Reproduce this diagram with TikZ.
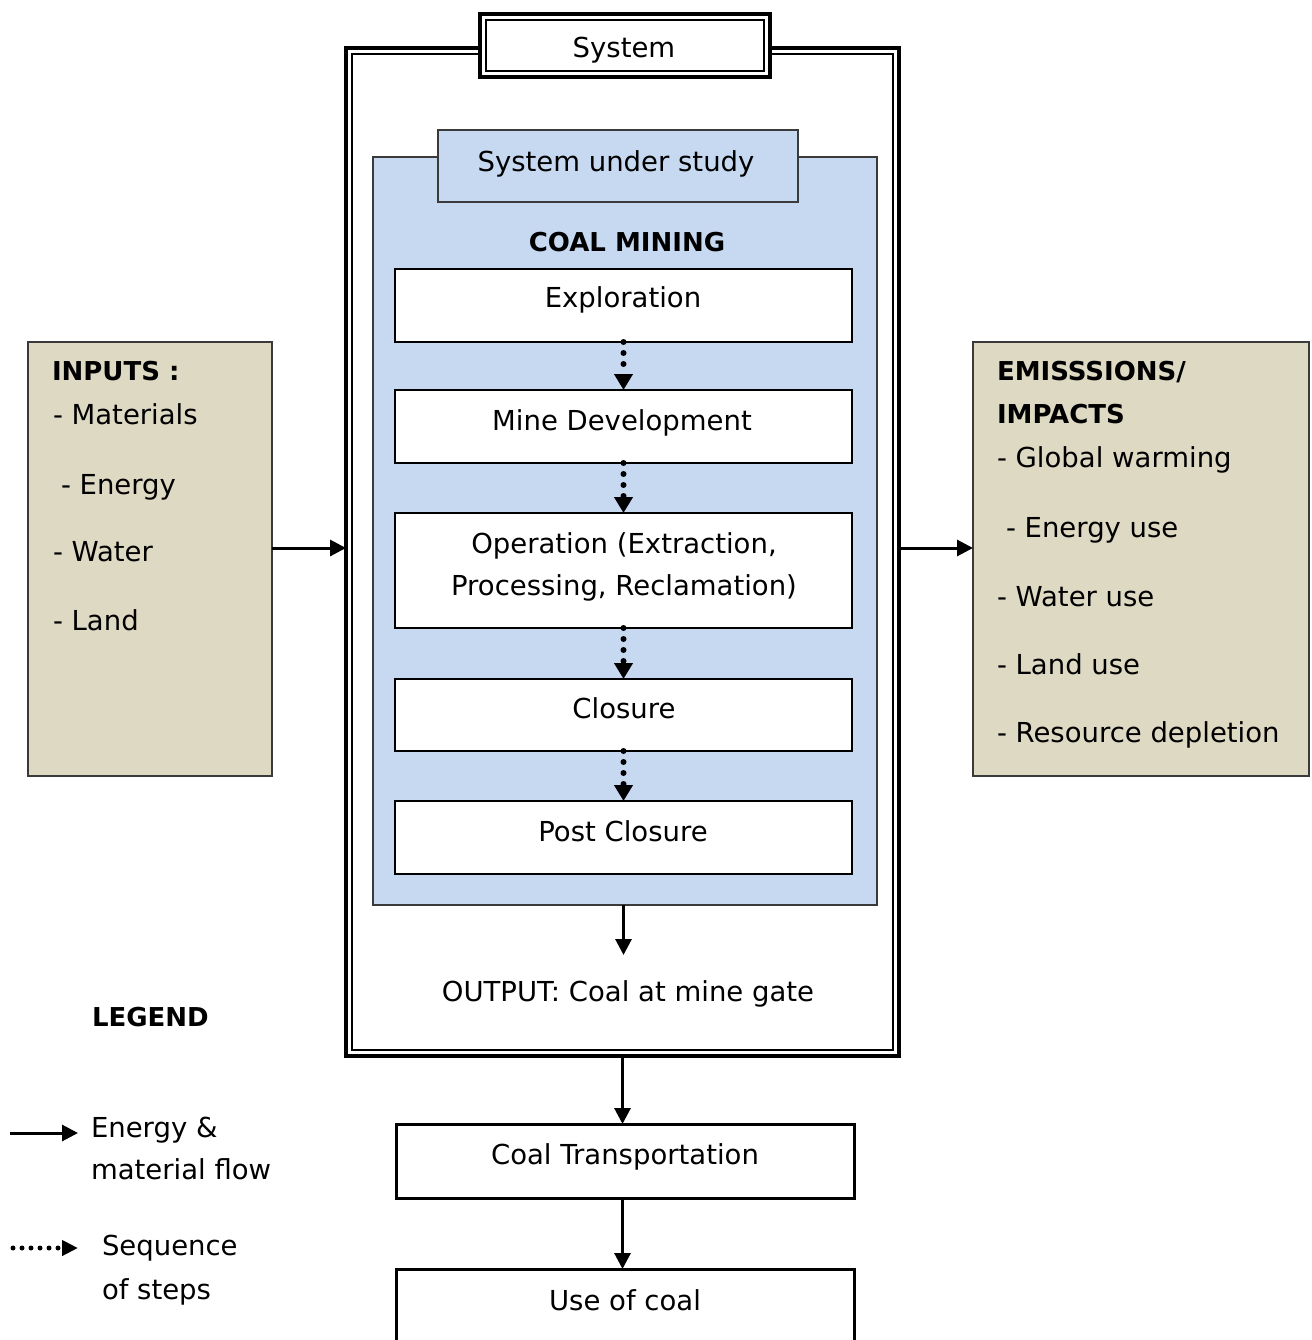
\documentclass[tikz,border=0pt]{standalone}
\usepackage{fontspec}
\setmainfont{DejaVu Sans}
\usetikzlibrary{arrows.meta}
\definecolor{studyblue}{HTML}{C6D9F1}
\definecolor{tanbox}{HTML}{DDD9C3}
\definecolor{edgegray}{HTML}{3A3A3A}
\begin{document}
\begin{tikzpicture}[x=1pt,y=-1pt,
  every node/.style={inner sep=0pt, outer sep=0pt},
  txt/.style={font=\fontsize{27.5}{33}\selectfont, anchor=mid, yshift=-7.5pt},
  ltxt/.style={txt, anchor=mid west},
  btxt/.style={ltxt, font=\fontsize{26}{31}\selectfont\bfseries},
  stepbox/.style={draw=black, fill=white, line width=1.4pt, minimum width=457pt},
  outbox/.style={draw=black, fill=white, line width=3pt, minimum width=458pt},
  tanpanel/.style={draw=edgegray, fill=tanbox, line width=1.5pt, minimum height=434pt},
  bluepanel/.style={draw=edgegray, fill=studyblue, line width=1.5pt},
  flow/.style={line width=3pt, -{Triangle[length=16pt,width=16pt]}},
  seq/.style={line width=6pt, dash pattern=on 0pt off 11pt, line cap=round, -{Triangle[length=16pt,width=18pt]}},
  seqsmall/.style={line width=5pt, dash pattern=on 0pt off 9pt, line cap=round, -{Triangle[length=16pt,width=15pt]}}
]
\useasboundingbox (0,0) rectangle (1311,1340);
\fill[white] (0,0) rectangle (1311,1340);

% System frame (double line)
\node[draw, line width=4pt, minimum width=553pt, minimum height=1008pt] (system) at (622.5,552) {};
\node[draw, line width=1.3pt, minimum width=541pt, minimum height=996pt] (systeminner) at (622.5,552) {};
% System title
\node[draw, fill=white, line width=4pt, minimum width=290pt, minimum height=63pt] (systitle) at (625,45.5) {};
\node[draw, line width=1.3pt, minimum width=278pt, minimum height=51pt] (systitleinner) at (625,45.5) {};
\node[txt] (systemtxt) at (624,47) {System};

% System under study
\node[bluepanel, minimum width=504pt, minimum height=748pt] (blue) at (625,531) {};
\node[bluepanel, minimum width=360pt, minimum height=72pt] (tab) at (618,166) {};
\node[txt] (tabtxt) at (616,161) {System under study};
\node[txt, font=\fontsize{26}{31}\selectfont\bfseries] (coal) at (627,241) {COAL MINING};

% Steps
\node[stepbox, minimum height=73pt] (expl) at (623.5,305.5) {};
\node[stepbox, minimum height=73pt] (dev) at (623.5,426.5) {};
\node[stepbox, minimum height=115pt] (oper) at (623.5,570.5) {};
\node[stepbox, minimum height=72pt] (clos) at (623.5,715) {};
\node[stepbox, minimum height=73pt] (post) at (623.5,837.5) {};
\node[txt] (expltxt) at (623,297) {Exploration};
\node[txt] (devtxt) at (622,420) {Mine Development};
\node[txt] (opertxta) at (624,543) {Operation (Extraction,};
\node[txt] (opertxtb) at (624,585) {Processing, Reclamation)};
\node[txt] (clostxt) at (624,708) {Closure};
\node[txt] (posttxt) at (623,831) {Post Closure};

\draw[seq] (expl.south) -- (dev.north);
\draw[seq] (dev.south) -- (oper.north);
\draw[seq] (oper.south) -- (clos.north);
\draw[seq] (clos.south) -- (post.north);

% Output
\coordinate (outtip) at (623.5,955);
\draw[flow] (blue.south -| expl.south) -- (outtip);
\node[txt] (outtxt) at (628,991) {OUTPUT: Coal at mine gate};

% Downstream
\node[outbox, minimum height=74pt] (trans) at (625,1161) {};
\node[txt] (transtxt) at (625,1154) {Coal Transportation};
\node[outbox, minimum height=91pt] (use) at (625,1314.5) {};
\node[txt] (usetxt) at (625,1300) {Use of coal};
\draw[flow] (system.south) -- (system.south |- trans.north);
\draw[flow] (trans.south -| system.south) -- (system.south |- use.north);

% Inputs
\node[tanpanel, minimum width=244pt] (inputs) at (150,559) {};
\node[btxt] (inhead) at (52,370) {INPUTS :};
\node[ltxt] (in1) at (53,414) {- Materials};
\node[ltxt] (in2) at (61,484) {- Energy};
\node[ltxt] (in3) at (53,551) {- Water};
\node[ltxt] (in4) at (53,620) {- Land};
\coordinate (flowrow) at ([yshift=11pt]inputs.east);
\draw[flow] (flowrow) -- (flowrow -| system.west);

% Emissions
\node[tanpanel, minimum width=336pt] (emis) at (1141,559) {};
\node[btxt] (emhead1) at (997,370) {EMISSSIONS/};
\node[btxt] (emhead2) at (997,413) {IMPACTS};
\node[ltxt] (em1) at (997,457) {- Global warming};
\node[ltxt] (em2) at (1006,527) {- Energy use};
\node[ltxt] (em3) at (997,596) {- Water use};
\node[ltxt] (em4) at (997,664) {- Land use};
\node[ltxt] (em5) at (997,732) {- Resource depletion};
\draw[flow] (flowrow -| system.east) -- (flowrow -| emis.west);

% Legend
\node[btxt] (legend) at (92,1016) {LEGEND};
\coordinate (lga) at (10,1133);
\coordinate (lgb) at (78,1133);
\draw[flow] (lga) -- (lgb);
\node[ltxt] (lg1a) at (91,1127) {Energy \&};
\node[ltxt] (lg1b) at (91,1169) {material flow};
\coordinate (lgc) at (13,1248);
\coordinate (lgd) at (78,1248);
\draw[seqsmall] (lgc) -- (lgd);
\node[ltxt] (lg2a) at (102,1245) {Sequence};
\node[ltxt] (lg2b) at (102,1289) {of steps};
\end{tikzpicture}
\end{document}
